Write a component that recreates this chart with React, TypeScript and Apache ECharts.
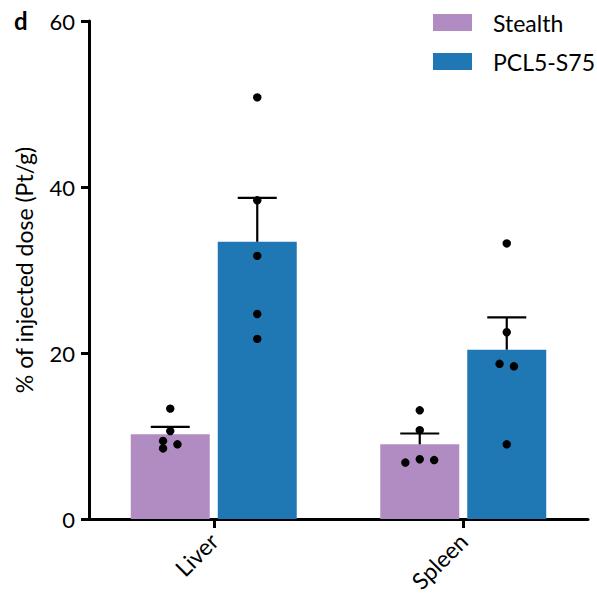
import React, { useEffect, useRef } from "react";
import * as echarts from "echarts";

// Platinum biodistribution per organ, mean ± SEM with individual animals
const categories = ["Liver", "Spleen"];
const seriesNames = ["Stealth", "PCL5-S75"];

const stealthMean = [10.2, 9.0];
const pclMean = [33.4, 20.4];
const stealthUpper = [11.1, 10.3];
const pclUpper = [38.7, 24.3];

const stealthLiverPts = [13.3, 10.6, 9.4, 9.0, 8.5];
const stealthSpleenPts = [13.1, 10.7, 6.8, 7.2, 7.1];
const pclLiverPts = [50.8, 38.4, 31.7, 24.7, 21.7];
const pclSpleenPts = [33.2, 22.5, 18.7, 18.4, 9.0];

// horizontal jitter slots so overlapping dots stay visible
const stealthLiverSlot = [0, 0, -1, 1, -1];
const stealthSpleenSlot = [0, 0, -2, 0, 2];
const pclLiverSlot = [0, 0, 0, 0, 0];
const pclSpleenSlot = [0, 0, -1, 1, 0];

const yTicks = [0, 20, 40, 60];

const COLORS = ["#b18cc2", "#1f77b4"];
const FONT = "Lato";
const BAR_W = 79;
const BAR_GAP = 8;
const GROUP_OFFSET = [-(BAR_W + BAR_GAP) / 2, (BAR_W + BAR_GAP) / 2];
const SLOT_PX = 7.2;

function dotsData(values: number[][], slots: number[][]) {
  const out: number[][] = [];
  values.forEach((vals, ci) => {
    vals.forEach((v, i) => out.push([ci, v, slots[ci][i]]));
  });
  return out;
}

function dotsSeries(group: number, data: number[][]) {
  return {
    type: "custom",
    z: 5,
    silent: true,
    data,
    renderItem: (_params: any, api: any) => {
      const p = api.coord([api.value(0), api.value(1)]);
      return {
        type: "circle",
        shape: { cx: p[0] + GROUP_OFFSET[group] + api.value(2) * SLOT_PX, cy: p[1], r: 4.2 },
        style: { fill: "#000" },
      };
    },
  };
}

function errSeries(group: number, means: number[], uppers: number[]) {
  return {
    type: "custom",
    z: 4,
    silent: true,
    data: means.map((m, i) => [i, m, uppers[i]]),
    renderItem: (_params: any, api: any) => {
      const base = api.coord([api.value(0), api.value(1)]);
      const top = api.coord([api.value(0), api.value(2)]);
      const x = base[0] + GROUP_OFFSET[group];
      const st = { stroke: "#000", lineWidth: 2.2 };
      return {
        type: "group",
        children: [
          { type: "line", shape: { x1: x, y1: base[1], x2: x, y2: top[1] }, style: st },
          { type: "line", shape: { x1: x - 19.5, y1: top[1], x2: x + 19.5, y2: top[1] }, style: st },
        ],
      };
    },
  };
}

export default function App() {
  const ref = useRef<HTMLDivElement>(null);

  useEffect(() => {
    if (!ref.current) return;
    const chart = echarts.init(ref.current, null, { renderer: "svg" });
    const axisLine = { show: true, lineStyle: { color: "#000", width: 3 } };
    chart.setOption({
      animation: false,
      backgroundColor: "#fff",
      textStyle: { fontFamily: FONT, color: "#000" },
      title: {
        text: "d",
        left: 14,
        top: 8,
        padding: 0,
        textStyle: { fontFamily: FONT, fontSize: 24, fontWeight: "bold", color: "#000" },
      },
      legend: {
        orient: "vertical",
        left: 433,
        top: 11,
        itemWidth: 39,
        itemHeight: 17,
        itemGap: 16,
        icon: "rect",
        padding: 0,
        data: seriesNames,
        textStyle: {
          fontFamily: FONT,
          fontSize: 23,
          lineHeight: 17,
          color: "#000",
          padding: [0, 0, 0, 16],
        },
      },
      grid: { left: 89, right: 9, top: 21, bottom: 83, containLabel: false, outerBoundsMode: "none" },
      xAxis: {
        type: "category",
        data: categories,
        axisLine,
        axisTick: { show: true, alignWithLabel: true, length: 9, lineStyle: { color: "#000", width: 3 } },
        axisLabel: { rotate: 45, fontSize: 23, fontFamily: FONT, color: "#000", margin: 18 },
      },
      yAxis: {
        type: "value",
        min: yTicks[0],
        max: yTicks[yTicks.length - 1],
        interval: 20,
        name: "% of injected dose (Pt/g)",
        nameLocation: "middle",
        nameRotate: 90,
        nameGap: 54,
        nameTextStyle: { fontFamily: FONT, fontSize: 23, color: "#000" },
        axisLine,
        axisTick: { show: true, length: 8, lineStyle: { color: "#000", width: 3 } },
        axisLabel: { fontSize: 22, fontFamily: FONT, color: "#000", margin: 14 },
        splitLine: { show: false },
      },
      series: [
        {
          name: seriesNames[0],
          type: "bar",
          data: stealthMean,
          barWidth: BAR_W,
          barGap: `${(BAR_GAP / BAR_W) * 100}%`,
          itemStyle: { color: COLORS[0] },
        },
        {
          name: seriesNames[1],
          type: "bar",
          data: pclMean,
          barWidth: BAR_W,
          barGap: `${(BAR_GAP / BAR_W) * 100}%`,
          itemStyle: { color: COLORS[1] },
        },
        errSeries(0, stealthMean, stealthUpper),
        errSeries(1, pclMean, pclUpper),
        dotsSeries(0, dotsData([stealthLiverPts, stealthSpleenPts], [stealthLiverSlot, stealthSpleenSlot])),
        dotsSeries(1, dotsData([pclLiverPts, pclSpleenPts], [pclLiverSlot, pclSpleenSlot])),
      ],
    });
    return () => chart.dispose();
  }, []);

  return (
    <div
      ref={ref}
      style={{ position: "absolute", left: 0, top: 0, width: 597, height: 602 }}
    />
  );
}
